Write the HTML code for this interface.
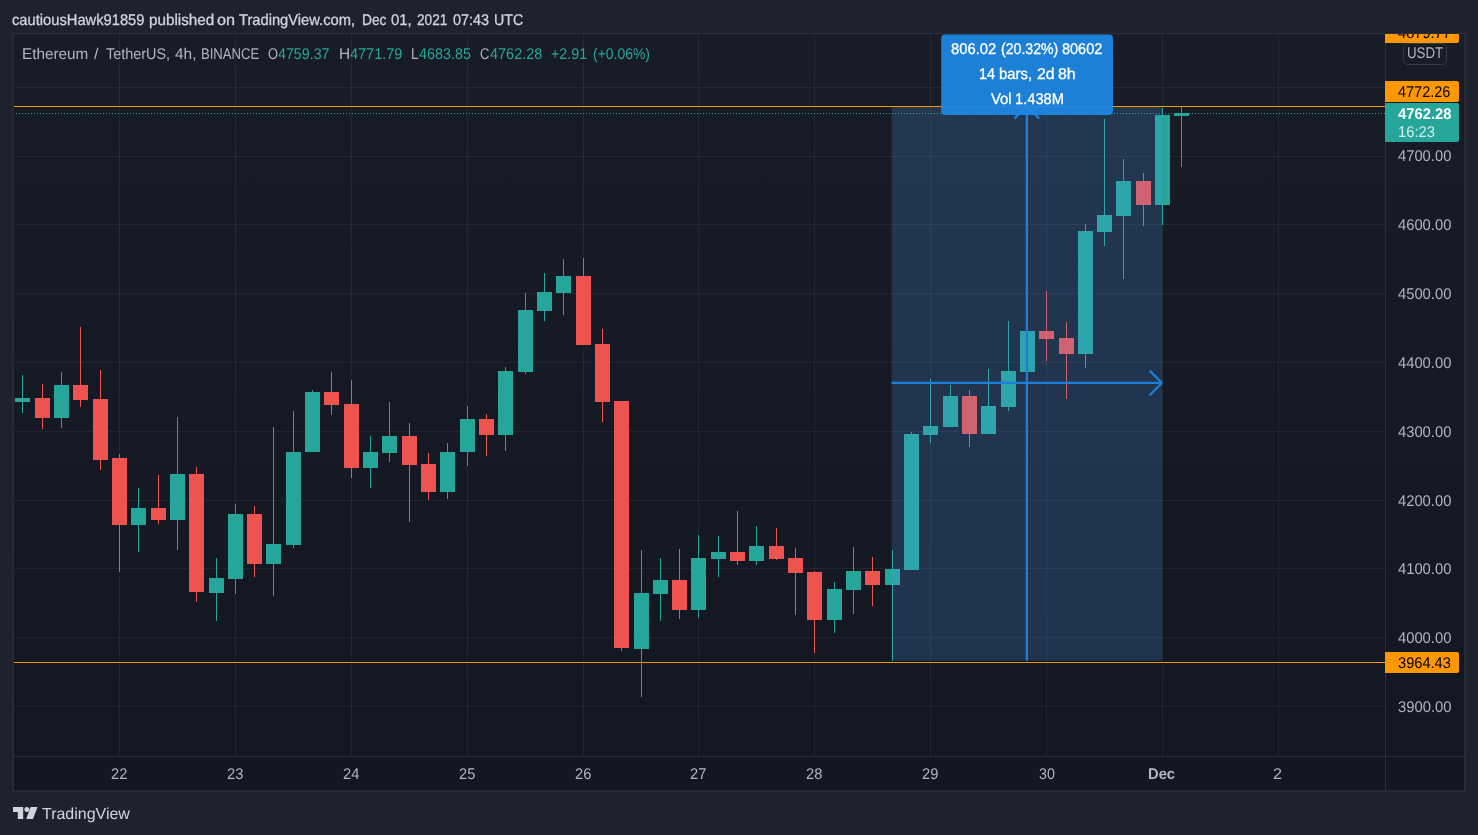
<!DOCTYPE html>
<html><head><meta charset="utf-8"><title>ETHUSDT chart</title>
<style>
html,body{margin:0;padding:0;background:#1e222d;}
body{width:1478px;height:835px;position:relative;overflow:hidden;font-family:"Liberation Sans",sans-serif;}
.abs{position:absolute;white-space:nowrap;}
.tx{position:absolute;white-space:pre;line-height:20px;height:20px;transform-origin:0 0;text-rendering:geometricPrecision;}
svg{position:absolute;left:0;top:0;}
.tag{position:absolute;left:1385px;width:74px;border-radius:0 2px 2px 0;}
</style></head><body>
<div class="tx" style="left:12.43px;top:11.00px;font-size:15.5px;color:#d1d4dc;transform:scaleX(0.9487);-webkit-text-stroke:0.3px;">cautiousHawk91859</div>
<div class="tx" style="left:148.62px;top:11.00px;font-size:15.5px;color:#d1d4dc;transform:scaleX(0.9845);-webkit-text-stroke:0.3px;">published</div>
<div class="tx" style="left:217.28px;top:11.00px;font-size:15.5px;color:#d1d4dc;transform:scaleX(1.0476);-webkit-text-stroke:0.3px;">on</div>
<div class="tx" style="left:239.36px;top:11.00px;font-size:15.5px;color:#d1d4dc;transform:scaleX(0.9482);-webkit-text-stroke:0.3px;">TradingView.com,</div>
<div class="tx" style="left:361.79px;top:11.00px;font-size:15.5px;color:#d1d4dc;transform:scaleX(0.8885);-webkit-text-stroke:0.3px;">Dec</div>
<div class="tx" style="left:391.22px;top:11.00px;font-size:15.5px;color:#d1d4dc;transform:scaleX(0.9570);-webkit-text-stroke:0.3px;">01,</div>
<div class="tx" style="left:416.94px;top:11.00px;font-size:15.5px;color:#d1d4dc;transform:scaleX(0.8788);-webkit-text-stroke:0.3px;">2021</div>
<div class="tx" style="left:452.74px;top:11.00px;font-size:15.5px;color:#d1d4dc;transform:scaleX(0.9298);-webkit-text-stroke:0.3px;">07:43</div>
<div class="tx" style="left:493.75px;top:11.00px;font-size:15.5px;color:#d1d4dc;transform:scaleX(0.9167);-webkit-text-stroke:0.3px;">UTC</div>
<svg width="1478" height="835" viewBox="0 0 1478 835" shape-rendering="crispEdges">
<g shape-rendering="auto"><rect x="12.2" y="33" width="1453.7" height="758.8" fill="#2a2e39"/><defs><linearGradient id="bgg" gradientUnits="userSpaceOnUse" x1="0" y1="34" x2="0" y2="756"><stop offset="0" stop-color="#181c27"/><stop offset="1" stop-color="#131722"/></linearGradient></defs><rect x="13.9" y="34.6" width="1450.2" height="755.6" fill="#131722"/><rect x="13.9" y="34.6" width="1450.2" height="721.4" fill="url(#bgg)"/></g>
<rect x="1385" y="34" width="1" height="757" fill="#2a2e39"/><rect x="14" y="756" width="1451" height="1" fill="#2a2e39"/>
<rect x="119" y="34" width="1" height="722" fill="rgba(240,243,250,0.06)"/>
<rect x="235" y="34" width="1" height="722" fill="rgba(240,243,250,0.06)"/>
<rect x="351" y="34" width="1" height="722" fill="rgba(240,243,250,0.06)"/>
<rect x="467" y="34" width="1" height="722" fill="rgba(240,243,250,0.06)"/>
<rect x="583" y="34" width="1" height="722" fill="rgba(240,243,250,0.06)"/>
<rect x="698" y="34" width="1" height="722" fill="rgba(240,243,250,0.06)"/>
<rect x="814" y="34" width="1" height="722" fill="rgba(240,243,250,0.06)"/>
<rect x="930" y="34" width="1" height="722" fill="rgba(240,243,250,0.06)"/>
<rect x="1046" y="34" width="1" height="722" fill="rgba(240,243,250,0.06)"/>
<rect x="1162" y="34" width="1" height="722" fill="rgba(240,243,250,0.06)"/>
<rect x="1278" y="34" width="1" height="722" fill="rgba(240,243,250,0.06)"/>
<rect x="14" y="87" width="1371" height="1" fill="rgba(240,243,250,0.06)"/>
<rect x="14" y="156" width="1371" height="1" fill="rgba(240,243,250,0.06)"/>
<rect x="14" y="224" width="1371" height="1" fill="rgba(240,243,250,0.06)"/>
<rect x="14" y="293" width="1371" height="1" fill="rgba(240,243,250,0.06)"/>
<rect x="14" y="362" width="1371" height="1" fill="rgba(240,243,250,0.06)"/>
<rect x="14" y="431" width="1371" height="1" fill="rgba(240,243,250,0.06)"/>
<rect x="14" y="500" width="1371" height="1" fill="rgba(240,243,250,0.06)"/>
<rect x="14" y="568" width="1371" height="1" fill="rgba(240,243,250,0.06)"/>
<rect x="14" y="637" width="1371" height="1" fill="rgba(240,243,250,0.06)"/>
<rect x="14" y="706" width="1371" height="1" fill="rgba(240,243,250,0.06)"/>
<rect x="14" y="106" width="1371" height="1" fill="#ff9800"/>
<rect x="14" y="662" width="1371" height="1" fill="#ff9800"/>
<line x1="16" y1="113.5" x2="1385" y2="113.5" stroke="#26a69a" stroke-width="1" stroke-dasharray="1 2"/>
<rect x="22" y="375" width="1" height="38" fill="#26a69a"/>
<rect x="15" y="398" width="15" height="4" fill="#26a69a"/>
<rect x="42" y="384" width="1" height="45" fill="#ef5350"/>
<rect x="35" y="398" width="15" height="20" fill="#ef5350"/>
<rect x="61" y="372" width="1" height="56" fill="#26a69a"/>
<rect x="54" y="385" width="15" height="33" fill="#26a69a"/>
<rect x="80" y="327" width="1" height="80" fill="#ef5350"/>
<rect x="73" y="385" width="15" height="15" fill="#ef5350"/>
<rect x="100" y="370" width="1" height="100" fill="#ef5350"/>
<rect x="93" y="399" width="15" height="61" fill="#ef5350"/>
<rect x="119" y="454" width="1" height="118" fill="#ef5350"/>
<rect x="112" y="458" width="15" height="67" fill="#ef5350"/>
<rect x="138" y="488" width="1" height="64" fill="#26a69a"/>
<rect x="131" y="508" width="15" height="17" fill="#26a69a"/>
<rect x="158" y="475" width="1" height="49" fill="#ef5350"/>
<rect x="151" y="508" width="15" height="12" fill="#ef5350"/>
<rect x="177" y="417" width="1" height="133" fill="#26a69a"/>
<rect x="170" y="474" width="15" height="46" fill="#26a69a"/>
<rect x="196" y="467" width="1" height="135" fill="#ef5350"/>
<rect x="189" y="474" width="15" height="118" fill="#ef5350"/>
<rect x="216" y="558" width="1" height="63" fill="#26a69a"/>
<rect x="209" y="578" width="15" height="15" fill="#26a69a"/>
<rect x="235" y="504" width="1" height="90" fill="#26a69a"/>
<rect x="228" y="514" width="15" height="65" fill="#26a69a"/>
<rect x="254" y="506" width="1" height="71" fill="#ef5350"/>
<rect x="247" y="514" width="15" height="50" fill="#ef5350"/>
<rect x="273" y="427" width="1" height="169" fill="#26a69a"/>
<rect x="266" y="544" width="15" height="20" fill="#26a69a"/>
<rect x="293" y="411" width="1" height="137" fill="#26a69a"/>
<rect x="286" y="452" width="15" height="93" fill="#26a69a"/>
<rect x="312" y="390" width="1" height="62" fill="#26a69a"/>
<rect x="305" y="392" width="15" height="60" fill="#26a69a"/>
<rect x="331" y="372" width="1" height="43" fill="#ef5350"/>
<rect x="324" y="392" width="15" height="13" fill="#ef5350"/>
<rect x="351" y="380" width="1" height="98" fill="#ef5350"/>
<rect x="344" y="404" width="15" height="64" fill="#ef5350"/>
<rect x="370" y="436" width="1" height="52" fill="#26a69a"/>
<rect x="363" y="452" width="15" height="16" fill="#26a69a"/>
<rect x="389" y="402" width="1" height="60" fill="#26a69a"/>
<rect x="382" y="436" width="15" height="17" fill="#26a69a"/>
<rect x="409" y="423" width="1" height="99" fill="#ef5350"/>
<rect x="402" y="436" width="15" height="29" fill="#ef5350"/>
<rect x="428" y="453" width="1" height="47" fill="#ef5350"/>
<rect x="421" y="464" width="15" height="28" fill="#ef5350"/>
<rect x="447" y="443" width="1" height="56" fill="#26a69a"/>
<rect x="440" y="452" width="15" height="40" fill="#26a69a"/>
<rect x="467" y="406" width="1" height="60" fill="#26a69a"/>
<rect x="460" y="419" width="15" height="33" fill="#26a69a"/>
<rect x="486" y="414" width="1" height="42" fill="#ef5350"/>
<rect x="479" y="419" width="15" height="16" fill="#ef5350"/>
<rect x="505" y="367" width="1" height="84" fill="#26a69a"/>
<rect x="498" y="371" width="15" height="64" fill="#26a69a"/>
<rect x="525" y="293" width="1" height="81" fill="#26a69a"/>
<rect x="518" y="310" width="15" height="62" fill="#26a69a"/>
<rect x="544" y="273" width="1" height="48" fill="#26a69a"/>
<rect x="537" y="292" width="15" height="19" fill="#26a69a"/>
<rect x="563" y="259" width="1" height="56" fill="#26a69a"/>
<rect x="556" y="276" width="15" height="17" fill="#26a69a"/>
<rect x="583" y="258" width="1" height="87" fill="#ef5350"/>
<rect x="576" y="276" width="15" height="69" fill="#ef5350"/>
<rect x="602" y="329" width="1" height="93" fill="#ef5350"/>
<rect x="595" y="344" width="15" height="58" fill="#ef5350"/>
<rect x="621" y="401" width="1" height="250" fill="#ef5350"/>
<rect x="614" y="401" width="15" height="247" fill="#ef5350"/>
<rect x="641" y="550" width="1" height="147" fill="#26a69a"/>
<rect x="634" y="593" width="15" height="56" fill="#26a69a"/>
<rect x="660" y="558" width="1" height="63" fill="#26a69a"/>
<rect x="653" y="580" width="15" height="14" fill="#26a69a"/>
<rect x="679" y="549" width="1" height="70" fill="#ef5350"/>
<rect x="672" y="580" width="15" height="30" fill="#ef5350"/>
<rect x="698" y="535" width="1" height="83" fill="#26a69a"/>
<rect x="691" y="558" width="15" height="52" fill="#26a69a"/>
<rect x="718" y="536" width="1" height="41" fill="#26a69a"/>
<rect x="711" y="552" width="15" height="7" fill="#26a69a"/>
<rect x="737" y="511" width="1" height="54" fill="#ef5350"/>
<rect x="730" y="552" width="15" height="9" fill="#ef5350"/>
<rect x="756" y="526" width="1" height="39" fill="#26a69a"/>
<rect x="749" y="546" width="15" height="15" fill="#26a69a"/>
<rect x="776" y="528" width="1" height="32" fill="#ef5350"/>
<rect x="769" y="546" width="15" height="13" fill="#ef5350"/>
<rect x="795" y="548" width="1" height="67" fill="#ef5350"/>
<rect x="788" y="558" width="15" height="15" fill="#ef5350"/>
<rect x="814" y="571" width="1" height="82" fill="#ef5350"/>
<rect x="807" y="572" width="15" height="48" fill="#ef5350"/>
<rect x="834" y="582" width="1" height="51" fill="#26a69a"/>
<rect x="827" y="589" width="15" height="31" fill="#26a69a"/>
<rect x="853" y="547" width="1" height="67" fill="#26a69a"/>
<rect x="846" y="571" width="15" height="19" fill="#26a69a"/>
<rect x="872" y="557" width="1" height="49" fill="#ef5350"/>
<rect x="865" y="571" width="15" height="14" fill="#ef5350"/>
<rect x="892" y="550" width="1" height="111" fill="#26a69a"/>
<rect x="885" y="569" width="15" height="16" fill="#26a69a"/>
<rect x="911" y="432" width="1" height="138" fill="#26a69a"/>
<rect x="904" y="434" width="15" height="136" fill="#26a69a"/>
<rect x="930" y="379" width="1" height="64" fill="#26a69a"/>
<rect x="923" y="426" width="15" height="9" fill="#26a69a"/>
<rect x="950" y="385" width="1" height="42" fill="#26a69a"/>
<rect x="943" y="396" width="15" height="31" fill="#26a69a"/>
<rect x="969" y="390" width="1" height="57" fill="#ef5350"/>
<rect x="962" y="396" width="15" height="38" fill="#ef5350"/>
<rect x="988" y="369" width="1" height="65" fill="#26a69a"/>
<rect x="981" y="406" width="15" height="28" fill="#26a69a"/>
<rect x="1008" y="321" width="1" height="90" fill="#26a69a"/>
<rect x="1001" y="371" width="15" height="36" fill="#26a69a"/>
<rect x="1027" y="325" width="1" height="51" fill="#26a69a"/>
<rect x="1020" y="331" width="15" height="41" fill="#26a69a"/>
<rect x="1046" y="291" width="1" height="70" fill="#ef5350"/>
<rect x="1039" y="331" width="15" height="8" fill="#ef5350"/>
<rect x="1066" y="322" width="1" height="77" fill="#ef5350"/>
<rect x="1059" y="338" width="15" height="16" fill="#ef5350"/>
<rect x="1085" y="224" width="1" height="144" fill="#26a69a"/>
<rect x="1078" y="231" width="15" height="123" fill="#26a69a"/>
<rect x="1104" y="119" width="1" height="127" fill="#26a69a"/>
<rect x="1097" y="215" width="15" height="17" fill="#26a69a"/>
<rect x="1123" y="159" width="1" height="120" fill="#26a69a"/>
<rect x="1116" y="181" width="15" height="35" fill="#26a69a"/>
<rect x="1143" y="173" width="1" height="53" fill="#ef5350"/>
<rect x="1136" y="181" width="15" height="24" fill="#ef5350"/>
<rect x="1162" y="108" width="1" height="117" fill="#26a69a"/>
<rect x="1155" y="115" width="15" height="90" fill="#26a69a"/>
<rect x="1181" y="107" width="1" height="60" fill="#26a69a"/>
<rect x="1174" y="113" width="15" height="3" fill="#26a69a"/>
<rect x="891.6" y="107" width="270.6" height="553.6" shape-rendering="auto" fill="rgb(80,165,245)" fill-opacity="0.2"/>
<g shape-rendering="auto" fill="none" stroke="#1e7fdb" stroke-width="2.3"><path d="M891.6 382.9 H1162"/><path d="M1149.6 370.6 L1161.9 382.9"/><path d="M1149.6 395.2 L1161.9 382.9"/><path d="M1026.9 106.3 V660.6"/><path d="M1014.6 118.6 L1026.9 106.3"/><path d="M1039.2 118.6 L1026.9 106.3"/></g>
<rect x="941.2" y="34.4" width="171.8" height="80.6" rx="4" fill="rgb(30,136,229)" fill-opacity="0.93" shape-rendering="auto"/>
</svg>
<!-- legend -->
<div class="tx" style="left:22.07px;top:44.90px;font-size:15.5px;color:#b2b5be;transform:scaleX(0.9877);">Ethereum</div>
<div class="tx" style="left:94.10px;top:44.90px;font-size:15.5px;color:#b2b5be;transform:scaleX(1.0353);">/</div>
<div class="tx" style="left:105.87px;top:44.90px;font-size:15.5px;color:#b2b5be;transform:scaleX(0.9294);">TetherUS,</div>
<div class="tx" style="left:174.95px;top:44.90px;font-size:15.5px;color:#b2b5be;transform:scaleX(0.9950);">4h,</div>
<div class="tx" style="left:200.64px;top:44.90px;font-size:15.5px;color:#b2b5be;transform:scaleX(0.8448);">BINANCE</div>
<div class="tx" style="left:267.68px;top:44.90px;font-size:15.5px;color:#b2b5be;transform:scaleX(0.8286);">O</div>
<div class="tx" style="left:278.47px;top:44.90px;font-size:15.5px;color:#26a69a;transform:scaleX(0.9200);">4759.37</div>
<div class="tx" style="left:339.36px;top:44.90px;font-size:15.5px;color:#b2b5be;transform:scaleX(0.9943);">H</div>
<div class="tx" style="left:350.07px;top:44.90px;font-size:15.5px;color:#26a69a;transform:scaleX(0.9345);">4771.79</div>
<div class="tx" style="left:411.09px;top:44.90px;font-size:15.5px;color:#b2b5be;transform:scaleX(0.8857);">L</div>
<div class="tx" style="left:419.27px;top:44.90px;font-size:15.5px;color:#26a69a;transform:scaleX(0.9267);">4683.85</div>
<div class="tx" style="left:479.88px;top:44.90px;font-size:15.5px;color:#b2b5be;transform:scaleX(0.8308);">C</div>
<div class="tx" style="left:489.77px;top:44.90px;font-size:15.5px;color:#26a69a;transform:scaleX(0.9339);">4762.28</div>
<div class="tx" style="left:551.31px;top:44.90px;font-size:15.5px;color:#26a69a;transform:scaleX(0.9219);">+2.91</div>
<div class="tx" style="left:593.10px;top:44.90px;font-size:15.5px;color:#26a69a;transform:scaleX(0.8992);">(+0.06%)</div>
<!-- price axis -->
<div class="tx" style="left:1397.76px;top:147.00px;font-size:15.5px;color:#b2b5be;transform:scaleX(0.9520);">4700.00</div>
<div class="tx" style="left:1397.76px;top:215.60px;font-size:15.5px;color:#b2b5be;transform:scaleX(0.9520);">4600.00</div>
<div class="tx" style="left:1397.76px;top:284.60px;font-size:15.5px;color:#b2b5be;transform:scaleX(0.9520);">4500.00</div>
<div class="tx" style="left:1397.76px;top:353.60px;font-size:15.5px;color:#b2b5be;transform:scaleX(0.9520);">4400.00</div>
<div class="tx" style="left:1397.76px;top:422.60px;font-size:15.5px;color:#b2b5be;transform:scaleX(0.9520);">4300.00</div>
<div class="tx" style="left:1397.76px;top:491.60px;font-size:15.5px;color:#b2b5be;transform:scaleX(0.9520);">4200.00</div>
<div class="tx" style="left:1397.76px;top:559.60px;font-size:15.5px;color:#b2b5be;transform:scaleX(0.9520);">4100.00</div>
<div class="tx" style="left:1397.76px;top:628.60px;font-size:15.5px;color:#b2b5be;transform:scaleX(0.9520);">4000.00</div>
<div class="tx" style="left:1397.52px;top:697.60px;font-size:15.5px;color:#b2b5be;transform:scaleX(0.9564);">3900.00</div>
<div class="abs" style="left:0;top:34px;width:1478px;height:40px;overflow:hidden;">
 <div style="position:absolute;left:0;top:-34px;width:1478px;height:100px;">
 <div class="tag" style="top:21.7px;height:21px;background:#ff9800;"></div>
 <div class="tx" style="left:1398.06px;top:23.70px;font-size:15.5px;color:#000000;transform:scaleX(0.9436);">4879.77</div>
 </div>
</div>
<div class="abs" style="left:1403px;top:42.5px;width:42px;height:20.5px;border:1px solid #363a45;border-radius:5px;"></div>
<div class="tx" style="left:1406.73px;top:43.80px;font-size:15.5px;color:#b2b5be;transform:scaleX(0.8589);">USDT</div>
<div class="tag" style="top:81px;height:21px;background:#ff9800;"></div>
<div class="tx" style="left:1398.17px;top:82.60px;font-size:15.5px;color:#000000;transform:scaleX(0.9339);">4772.26</div>
<div class="tag" style="top:103px;height:39px;background:#26a69a;"></div>
<div class="tx" style="left:1397.56px;top:104.70px;font-size:15.5px;color:#ffffff;transform:scaleX(0.9538);font-weight:bold;">4762.28</div>
<div class="tx" style="left:1397.56px;top:123.00px;font-size:15.5px;color:#d4edea;transform:scaleX(0.9527);">16:23</div>
<div class="tag" style="top:652px;height:21px;background:#ff9800;"></div>
<div class="tx" style="left:1397.73px;top:653.50px;font-size:15.5px;color:#000000;transform:scaleX(0.9436);">3964.43</div>
<!-- time axis -->
<div class="tx" style="left:110.84px;top:765.10px;font-size:15.5px;color:#b2b5be;transform:scaleX(0.9460);">22</div>
<div class="tx" style="left:226.84px;top:765.10px;font-size:15.5px;color:#b2b5be;transform:scaleX(0.9460);">23</div>
<div class="tx" style="left:342.69px;top:765.10px;font-size:15.5px;color:#b2b5be;transform:scaleX(0.9500);">24</div>
<div class="tx" style="left:458.84px;top:765.10px;font-size:15.5px;color:#b2b5be;transform:scaleX(0.9460);">25</div>
<div class="tx" style="left:574.84px;top:765.10px;font-size:15.5px;color:#b2b5be;transform:scaleX(0.9460);">26</div>
<div class="tx" style="left:690.34px;top:765.10px;font-size:15.5px;color:#b2b5be;transform:scaleX(0.9460);">27</div>
<div class="tx" style="left:806.34px;top:765.10px;font-size:15.5px;color:#b2b5be;transform:scaleX(0.9460);">28</div>
<div class="tx" style="left:922.34px;top:765.10px;font-size:15.5px;color:#b2b5be;transform:scaleX(0.9460);">29</div>
<div class="tx" style="left:1038.59px;top:765.10px;font-size:15.5px;color:#b2b5be;transform:scaleX(0.9169);">30</div>
<div class="tx" style="left:1273.41px;top:765.10px;font-size:15.5px;color:#b2b5be;transform:scaleX(1.0483);">2</div>
<div class="tx" style="left:1148.45px;top:765.10px;font-size:15.5px;color:#b2b5be;transform:scaleX(0.9519);font-weight:bold;">Dec</div>
<!-- tooltip -->
<div class="tx" style="left:951.18px;top:40.00px;font-size:15.5px;color:#ffffff;transform:scaleX(0.9565);-webkit-text-stroke:0.3px;">806.02</div>
<div class="tx" style="left:1000.79px;top:40.00px;font-size:15.5px;color:#ffffff;transform:scaleX(0.9098);-webkit-text-stroke:0.3px;">(20.32%)</div>
<div class="tx" style="left:1062.20px;top:40.00px;font-size:15.5px;color:#ffffff;transform:scaleX(0.9341);-webkit-text-stroke:0.3px;">80602</div>
<div class="tx" style="left:979.14px;top:64.70px;font-size:15.5px;color:#ffffff;transform:scaleX(0.9290);-webkit-text-stroke:0.3px;">14</div>
<div class="tx" style="left:999.04px;top:64.70px;font-size:15.5px;color:#ffffff;transform:scaleX(0.9625);-webkit-text-stroke:0.3px;">bars,</div>
<div class="tx" style="left:1036.84px;top:64.70px;font-size:15.5px;color:#ffffff;transform:scaleX(1.0194);-webkit-text-stroke:0.3px;">2d</div>
<div class="tx" style="left:1057.83px;top:64.70px;font-size:15.5px;color:#ffffff;transform:scaleX(1.0258);-webkit-text-stroke:0.3px;">8h</div>
<div class="tx" style="left:991.20px;top:89.70px;font-size:15.5px;color:#ffffff;transform:scaleX(0.9561);-webkit-text-stroke:0.3px;">Vol</div>
<div class="tx" style="left:1015.41px;top:89.70px;font-size:15.5px;color:#ffffff;transform:scaleX(0.9482);-webkit-text-stroke:0.3px;">1.438M</div>
<!-- logo -->
<svg width="1478" height="835" viewBox="0 0 1478 835" style="pointer-events:none">
<path d="M13 807 H23.2 V819 H17.8 V812.1 H13 Z" fill="#d1d4dc"/>
<circle cx="26.9" cy="809.4" r="2.5" fill="#d1d4dc"/>
<path d="M30.6 807 H37.5 L33 819 H26.2 Z" fill="#d1d4dc"/>
</svg>
<div class="tx" style="left:41.85px;top:805.00px;font-size:16.0px;color:#d1d4dc;transform:scaleX(0.9983);">TradingView</div>
</body></html>
